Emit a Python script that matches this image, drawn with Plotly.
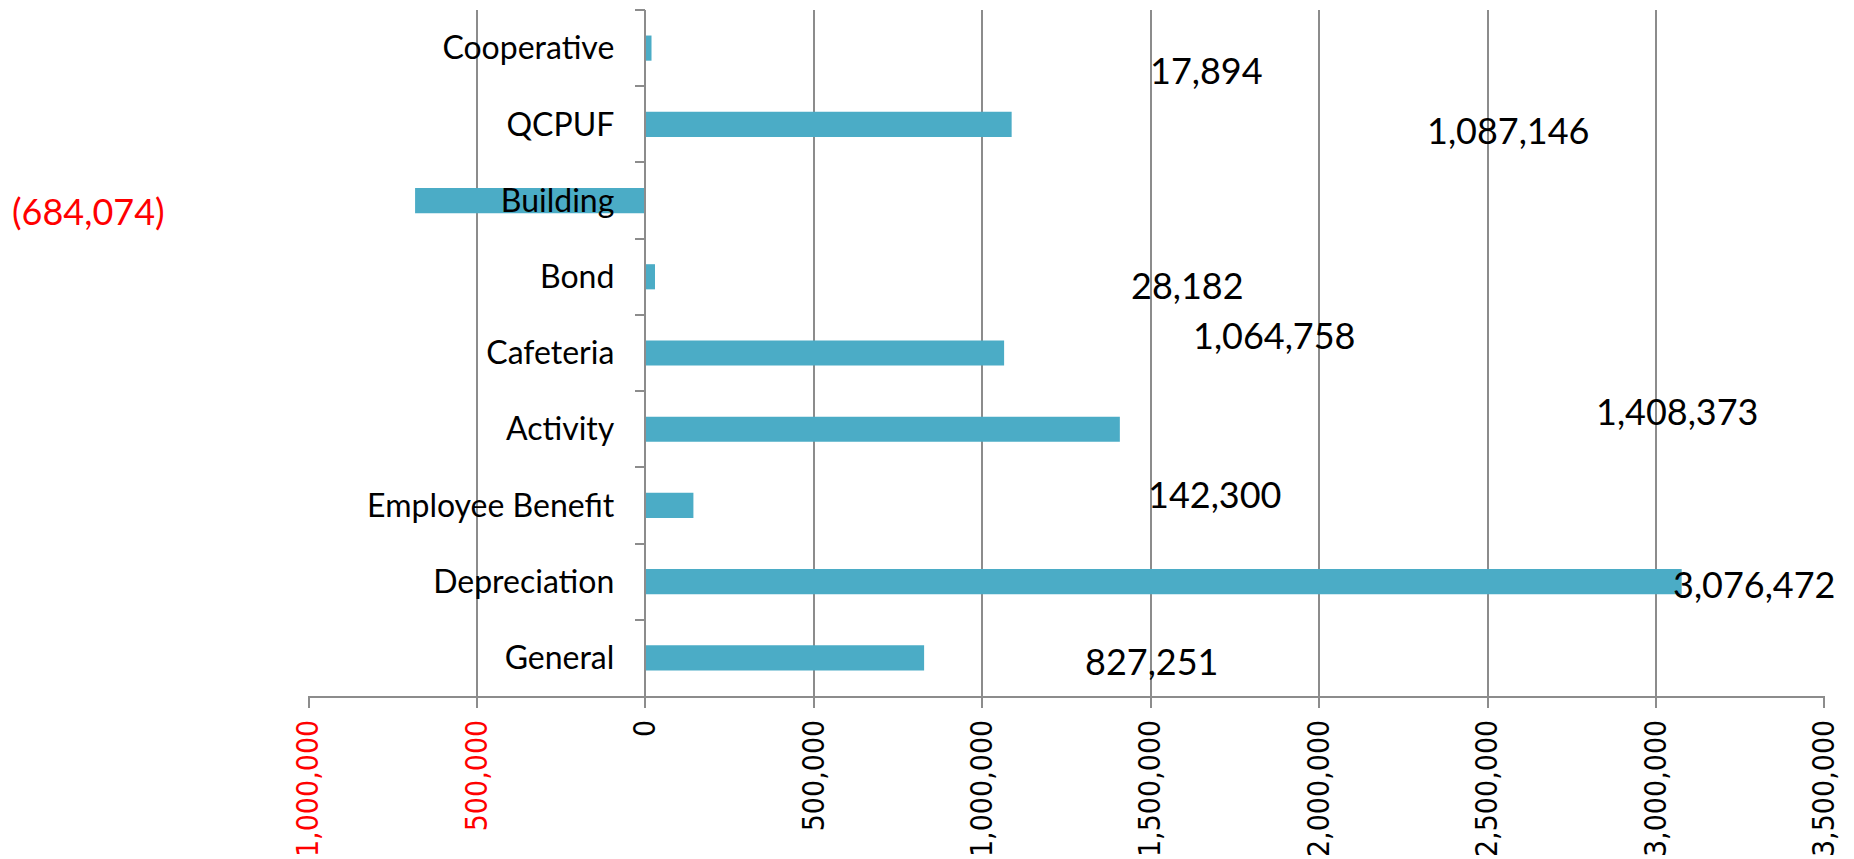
import plotly.graph_objects as go

# ---- data (top to bottom as displayed) ----
categories = ["Cooperative", "QCPUF", "Building", "Bond", "Cafeteria",
              "Activity", "Employee Benefit", "Depreciation", "General"]
values = [17894, 1087146, -684074, 28182, 1064758, 1408373, 142300, 3076472, 827251]
label_texts = ["17,894", "1,087,146", "(684,074)", "28,182", "1,064,758",
               "1,408,373", "142,300", "3,076,472", "827,251"]

# axis ticks
tick_vals = [-1000000, -500000, 0, 500000, 1000000, 1500000, 2000000, 2500000, 3000000, 3500000]
tick_labels = ["1,000,000", "500,000", "0", "500,000", "1,000,000", "1,500,000",
               "2,000,000", "2,500,000", "3,000,000", "3,500,000"]

# label placement (as manually placed in the original chart), in data units / px offsets
label_x = [1665000, 2563000, -1653000, 1609000, 1867000, 3064000, 1689000, 3292000, 1502000]
label_dy = [22, 6, 10, 8, -18, -18, -11, 2, 3]

BAR = "#4bacc6"
GRID = "#8c8c8c"
RED = "#ff0000"

fig = go.Figure()
fig.add_trace(go.Bar(
    y=categories, x=values, orientation="h",
    marker=dict(color=BAR, line=dict(width=0)),
    hoverinfo="skip",
))

tick_text = [(f'<span style="color:{RED}">{t}</span>' if v < 0 else t)
             for v, t in zip(tick_vals, tick_labels)]

eps = 2000
xmin, xmax = tick_vals[0] - eps, tick_vals[-1] + eps
span = xmax - xmin
zero_pos = (0 - xmin) / span

for cat, val, txt, lx, dy in zip(categories, values, label_texts, label_x, label_dy):
    fig.add_annotation(
        x=(lx - xmin) / span, y=cat, xref="paper", yref="y", text=txt, showarrow=False,
        yshift=-dy, xanchor="center", yanchor="middle",
        font=dict(family="Lato, Carlito, sans-serif", size=36,
                  color=RED if val < 0 else "black"),
    )

# the page body has an 8px margin, so the figure is sized to end at the window edge
fig.update_layout(
    width=1846, height=851,
    margin=dict(l=300, r=29, t=2, b=163, pad=0, autoexpand=False),
    paper_bgcolor="white", plot_bgcolor="white",
    showlegend=False, bargap=0.67,
    xaxis=dict(
        range=[xmin, xmax], tickvals=tick_vals, ticktext=tick_text,
        tickangle=-90, showgrid=True, gridcolor=GRID, gridwidth=1.5,
        zeroline=False, showline=True, linecolor=GRID, linewidth=1.5,
        ticks="outside", ticklen=10, tickcolor=GRID, tickwidth=1.5,
        automargin=False,
        tickfont=dict(family="DejaVu Sans Condensed, DejaVu Sans", size=30, color="black"),
        fixedrange=True,
    ),
    yaxis=dict(
        type="category", range=[len(categories) - 0.5, -0.5],
        anchor="free", position=zero_pos, automargin=False,
        showgrid=False, zeroline=False, showline=True, linecolor=GRID, linewidth=1.5,
        ticks="outside", tickson="boundaries", ticklen=10, tickcolor=GRID, tickwidth=1.5,
        ticklabelstandoff=24,
        tickfont=dict(family="Lato, Carlito, sans-serif", size=32, color="black"),
        fixedrange=True,
    ),
)

fig.write_html("out.html")
